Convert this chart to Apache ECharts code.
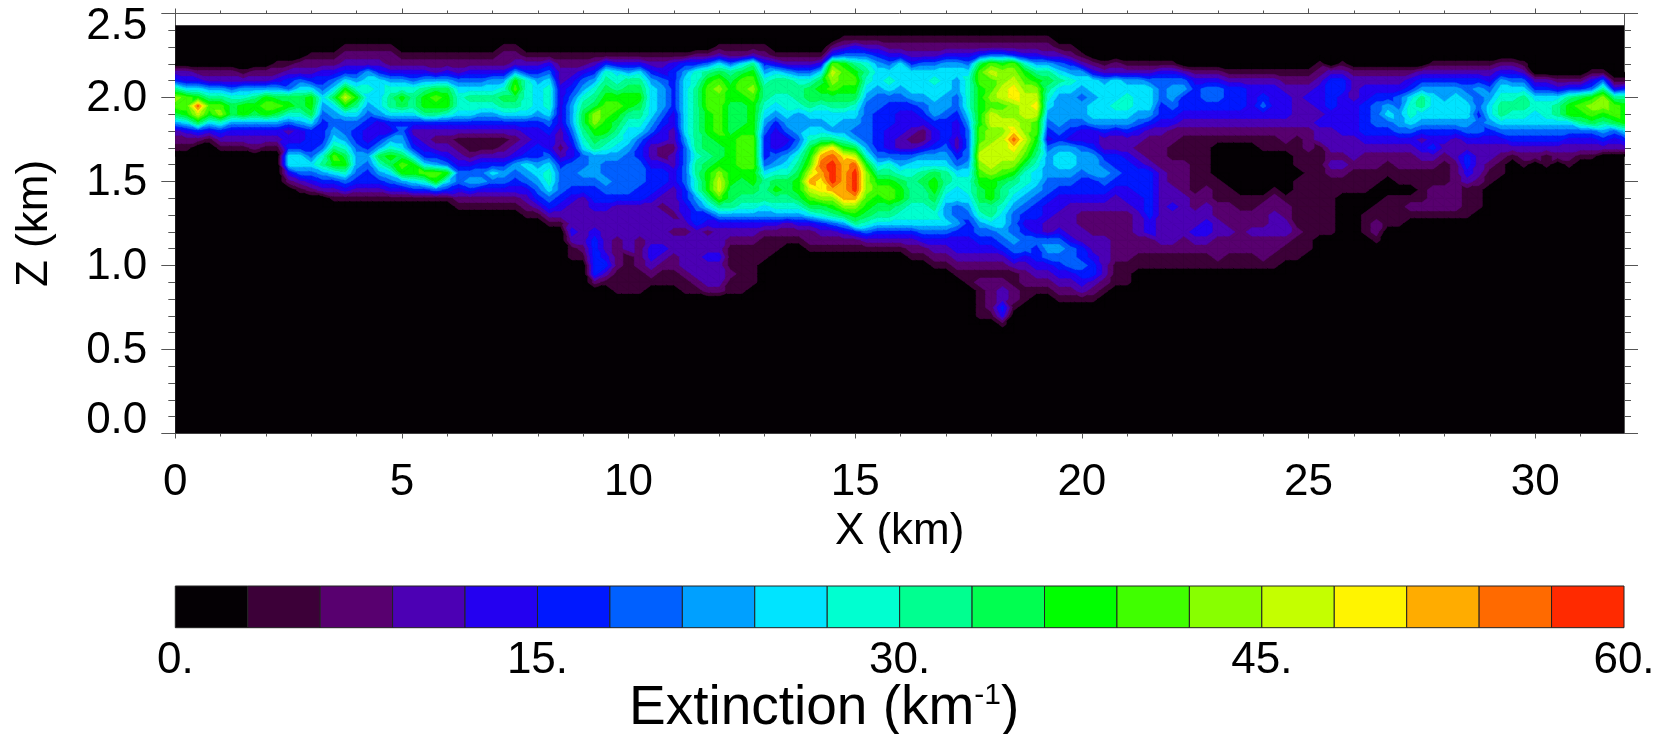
<!DOCTYPE html>
<html><head><meta charset="utf-8">
<style>html,body{margin:0;padding:0;background:#fff}#c{width:1667px;height:734px}</style>
<script src="https://cdn.jsdelivr.net/npm/echarts@6/dist/echarts.min.js"></script>
</head><body><div id="c"></div>
<script>
// Contour levels of extinction (km-1) and their fill colours
const levels = [0,3,6,9,12,15,18,21,24,27,30,33,36,39,42,45,48,51,54,57,60];
const levelColors = ['#040004','#3c0038','#58006f','#4c00b4','#2400f0','#0018ff','#0060ff','#00a0ff','#00e4ff','#00ffd0','#00ff90','#00ff50','#00ff00','#40ff00','#88ff00','#c4ff00','#fff400','#ffac00','#ff6a00','#ff2a00'];
const xKm = [0,0.25,0.5,0.75,1,1.25,1.5,1.75,2,2.25,2.5,2.75,3,3.25,3.5,3.75,4,4.25,4.5,4.75,5,5.25,5.5,5.75,6,6.25,6.5,6.75,7,7.25,7.5,7.75,8,8.25,8.5,8.75,9,9.25,9.5,9.75,10,10.25,10.5,10.75,11,11.25,11.5,11.75,12,12.25,12.5,12.75,13,13.25,13.5,13.75,14,14.25,14.5,14.75,15,15.25,15.5,15.75,16,16.25,16.5,16.75,17,17.25,17.5,17.75,18,18.25,18.5,18.75,19,19.25,19.5,19.75,20,20.25,20.5,20.75,21,21.25,21.5,21.75,22,22.25,22.5,22.75,23,23.25,23.5,23.75,24,24.25,24.5,24.75,25,25.25,25.5,25.75,26,26.25,26.5,26.75,27,27.25,27.5,27.75,28,28.25,28.5,28.75,29,29.25,29.5,29.75,30,30.25,30.5,30.75,31,31.25,31.5,31.75,32];
const zKm = [2.40,2.35,2.30,2.25,2.20,2.15,2.10,2.05,2.00,1.95,1.90,1.85,1.80,1.75,1.70,1.65,1.60,1.55,1.50,1.45,1.40,1.35,1.30,1.25,1.20,1.15,1.10,1.05,1.00,0.95,0.90,0.85,0.80,0.75,0.70,0.65,0.60];
const xDomain = [0,31.96];
const zDomain = [0,2.43];
// One string per x position; one character per z level (top to bottom), giving the contour band 0-9,a-j. Omitted tail = band 0.
const bandColumns = [
"00000 35aed b7321",
"00000 348dd c8421",
"00000 248ci fb520",
"00000 237ad c8410",
"00000 237ad e9531",
"00000 2369b b7431",
"00000 1379c c7431",
"00000 237ac b7432",
"00000 237cd c7431",
"00001 247bd b7431",
"00001 356bc 96345 88420",
"00002 368bb 97445 88631",
"00012 358cc b8555 68642",
"00012 45687 65556 9a753",
"00012 468b8 7678a dc853 1",
"00123 58cfc 86679 bc964 1",
"00123 579ca 86556 77653 1",
"00123 78987 65445 76553 1",
"00123 58888 74457 b9753 1",
"00122 479aa 85479 cb864 1",
"00012 479cb 85678 bdc74 1",
"00012 469aa 85345 8cc85 1",
"00012 47acc a5334 58d95 1",
"00012 37bdc a5323 57dc6 1",
"00012 47bcc 95323 46c85 1",
"00012 36899 85312 34664 21",
"00012 468a9 85311 24675 21",
"00012 468a9 75311 35674 21",
"00012 478a9 75311 35864 21",
"00122 479ba 85312 35764 21",
"00123 7cdba 85323 47654 21",
"00013 59999 85434 58764 321",
"00013 57888 75445 57876 531",
"00014 68999 86544 68998 6531",
"00012 33444 44332 35666 5431",
"00012 34567 77654 46665 43334 311",
"00012 4679a bba98 66765 33333 321",
"00013 579ab eecba 77765 54334 55555 2",
"00015 9abcd dcca9 76676 54333 33453 1",
"00014 89acd cba98 76666 53333 22221 11",
"00014 7abcc a9887 66666 53333 33111 11",
"00014 8abcb a9865 56665 53333 22221 11",
"00013 57888 87643 34555 43333 34432 1",
"00013 46777 65442 24554 32333 34321 1",
"00014 55555 44332 33443 33232 33221 1",
"00015 78888 88876 66665 54432 33332 11",
"00025 99aaa aaaaa 9aa99 76553 33333 21",
"00026 acddd cccbb abccc a8542 33433 32",
"00138 bdedd dddcb bceff da743 33433 32",
"00126 abccb bbbcc ccccb ba743 21112 11",
"00128 bddcb bbcdd ddcbb a9743 21111 11",
"0013a cdedc cccdd ddccb a9743 21111 1",
"00125 79aa9 87655 568aa a8742 111",
"00014 8aa98 75444 679bc a9742 11",
"00013 7aa99 87645 789bb a9732 1",
"00013 69aa9 77767 9abcc b9742 1",
"00013 69bba 8789b cdfhf db842 21",
"00014 8bcb9 878ae hihgg eb953 21",
"0025d fedba 887ag ijjjh eca63 21",
"0136c ddcba 8779c ghhhh heb74 21",
"0146a cdcb9 8767b fijjj heca5 21",
"01369 a9876 66667 9ceee dcb96 31",
"01357 88766 55555 68acd cba85 31",
"01246 89865 55444 69acd dba85 31",
"01248 88765 44433 679bc ca985 31",
"01235 88875 44323 689aa a9985 321",
"01236 88876 54224 78aba a9986 421",
"01236 89887 75445 78bcc ba986 4321",
"01247 88877 65556 78aa9 87786 4321",
"01247 87766 54433 56898 86675 44321",
"01246 89999 87666 67899 87655 44321 1",
"0125b ddccc ccdde fedcb ba976 54321 21111",
"0126d fdded ffeef ffecc caa86 54321 22221",
"0126c eeffd efeff fedba a9887 65321 23354 1",
"0125d efgge efgig feca9 87666 76531 1221",
"01249 cdeff feefe db998 76545 66432 211",
"01247 acefg fddcb a9887 65544 65543 21",
"01237 aba98 76546 77766 54433 67643 21",
"00136 8a877 77657 88765 44334 67654 321",
"00125 79877 76547 88765 43333 46664 321",
"00013 78767 76446 77655 43223 35565 431",
"00002 48878 87445 77755 43222 33455 321",
"00001 37888 87533 56765 43222 33333 21",
"00002 38889 87433 55654 33222 22211 1",
"00001 37899 87533 45554 43222 22211 1",
"00001 37888 76432 34555 44333 22110",
"00001 36888 75322 23555 55544 22110",
"00001 46665 54322 22333 33333 32110",
"00001 46776 54221 12223 34333 32110",
"00000 36755 43211 12222 33333 22110",
"00000 24555 43211 11111 22334 32110",
"00000 24665 43211 11112 23344 32110",
"00000 24665 43210 00011 12233 22210",
"00000 13555 43210 00001 12223 22110",
"00000 13555 43210 00000 11222 22110",
"00000 13444 43210 00000 11223 22110",
"00000 13456 43211 00000 12223 22210",
"00000 13444 43211 00001 22333 22110",
"00000 12344 43221 00000 12233 21100",
"00000 12333 33211 11011 11112 111",
"00000 12343 33222 11111 11111 11",
"00001 23444 34331 11111 11111",
"00000 35555 44333 23211 11111",
"00001 35544 44433 23211",
"00000 23334 44433 32111",
"00000 23445 55543 22111 00111",
"00000 23456 66543 22110 01122 1",
"00000 23457 86543 21100 1111",
"00000 23466 77643 22110 11110",
"00000 24589 98643 22110 121",
"00000 357aa 87534 32111 121",
"00001 35788 87545 32112 221",
"00001 35778 87543 21112 221",
"00001 35788 87533 32222 221",
"00001 35678 87643 55431 111",
"00001 35766 56643 33321 11",
"00001 34678 87543 32110",
"00002 4789a a8643 21100",
"00002 4689a 98653 1",
"00001 368aa 98653 21",
"00000 03589 88653 2",
"00000 03589 98653 11",
"00000 0248a a8653 2",
"00000 025ac c8643 21",
"00000 025bd ca643 1",
"00000 146ce db643 1",
"00000 16aee ca753",
"00000 014ad db643",
"00000 015ac cc853"
];
const xTickLabels = [0,5,10,15,20,25,30];
const colorbarTicks = ['0.','15.','30.','45.','60.'];

const AXIS = '#555';
const FONT = '"Liberation Sans", Arial, sans-serif';

// band character -> representative value in km-1 (middle of the band)
function bandValue(ch){
  const k = parseInt(ch,36);
  return k === 0 ? 0 : (levels[k]+levels[k+1])/2;
}
const grid = bandColumns.map(s => s.replace(/ /g,'').padEnd(zKm.length,'0').split('').map(bandValue));

const cells = [];
for (let i=0;i<xKm.length-1;i++){
  for (let j=0;j<zKm.length-1;j++){
    const a=grid[i][j], b=grid[i+1][j], c=grid[i][j+1], d=grid[i+1][j+1];
    if (a+b+c+d>0) cells.push([xKm[i],xKm[i+1],zKm[j],zKm[j+1],a,b,c,d]);
  }
}

function clip(poly, limit, keepAbove){
  const out=[];
  for (let i=0;i<poly.length;i++){
    const p=poly[i], q=poly[(i+1)%poly.length];
    const pin = keepAbove ? p[2]>=limit : p[2]<=limit;
    const qin = keepAbove ? q[2]>=limit : q[2]<=limit;
    if (pin) out.push(p);
    if (pin!==qin){
      const t=(limit-p[2])/(q[2]-p[2]);
      out.push([p[0]+t*(q[0]-p[0]),p[1]+t*(q[1]-p[1]),limit]);
    }
  }
  return out;
}
function bandPolys(tri, api, children){
  const vs=tri.map(p=>p[2]);
  const mn=Math.min(...vs), mx=Math.max(...vs);
  for (let k=0;k<levelColors.length;k++){
    const lo=levels[k], hi=levels[k+1];
    if (mx<lo||mn>hi) continue;
    let poly=clip(tri,lo,true);
    if (poly.length>=3) poly=clip(poly,hi,false);
    if (poly.length<3) continue;
    children.push({type:'polygon',silent:true,
      shape:{points:poly.map(p=>api.coord([p[0],p[1]]))},
      style:{fill:levelColors[k],stroke:levelColors[k],lineWidth:0.7}});
  }
}
function renderContour(params, api){
  const x0=api.value(0),x1=api.value(1),z0=api.value(2),z1=api.value(3);
  const A=[x0,z0,api.value(4)],B=[x1,z0,api.value(5)],C=[x0,z1,api.value(6)],D=[x1,z1,api.value(7)];
  const children=[];
  // split along the diagonal whose ends are closest in value
  if (Math.abs(A[2]-D[2])<=Math.abs(B[2]-C[2])){
    bandPolys([A,B,D],api,children); bandPolys([A,D,C],api,children);
  } else {
    bandPolys([A,B,C],api,children); bandPolys([B,D,C],api,children);
  }
  return {type:'group',children};
}
function renderDomain(params, api){
  const p0=api.coord([api.value(0),api.value(2)]), p1=api.coord([api.value(1),api.value(3)]);
  return {type:'rect',silent:true,shape:{x:p0[0],y:p1[1],width:p1[0]-p0[0],height:p0[1]-p1[1]},style:{fill:levelColors[0]}};
}
function renderBar(params, api){
  const p0=api.coord([api.value(0),0]), p1=api.coord([api.value(1),1]);
  return {type:'rect',silent:true,shape:{x:p0[0],y:p1[1],width:p1[0]-p0[0],height:p0[1]-p1[1]},
    style:{fill:levelColors[params.dataIndex],stroke:'#222',lineWidth:1}};
}
const colorbarData = levelColors.map((c,i)=>[levels[i],levels[i+1]]);

const tick = (len)=>({show:true,length:len,lineStyle:{color:AXIS,width:1}});
const line = {show:true,onZero:false,lineStyle:{color:AXIS,width:1}};
const label = {color:'#000',fontSize:44,fontFamily:FONT};

const option = {
  animation:false,
  backgroundColor:'#fff',
  grid:[
    {left:175.3,right:43,top:13.5,bottom:300.5,outerBoundsMode:'none'},
    {left:175.3,right:43,top:586,height:41.7,outerBoundsMode:'none'}
  ],
  xAxis:[
    {type:'value',gridIndex:0,min:xDomain[0],max:xDomain[1],interval:5,position:'bottom',
     axisLine:line,axisTick:{...tick(5),customValues:xTickLabels},minorTick:{...tick(3),splitNumber:5},splitLine:{show:false},
     axisLabel:{...label,margin:27,customValues:xTickLabels,formatter:v=>String(v)},
     name:'X (km)',nameLocation:'middle',nameGap:73,nameTextStyle:{...label}},
    {type:'value',gridIndex:0,min:xDomain[0],max:xDomain[1],interval:5,position:'top',
     axisLine:line,axisTick:{...tick(5),customValues:xTickLabels},minorTick:{...tick(3),splitNumber:5},splitLine:{show:false},axisLabel:{show:false}},
    {type:'value',gridIndex:1,min:0,max:60,interval:15,position:'bottom',
     axisLine:{show:false},axisTick:{show:false},splitLine:{show:false},
     axisLabel:{...label,margin:11,formatter:v=>colorbarTicks[v/15]}}
  ],
  yAxis:[
    {type:'value',gridIndex:0,min:0,max:2.5,interval:0.5,position:'left',
     axisLine:line,axisTick:tick(14),minorTick:{...tick(7),splitNumber:5},splitLine:{show:false},
     axisLabel:{...label,margin:28,
       formatter:v=>v===2.5?'{top|2.5}':(v===0?'{bot|0.0}':'{mid|'+v.toFixed(1)+'}'),
       rich:{top:{...label,padding:[27,0,0,0]},mid:{...label,padding:[3,0,0,0]},bot:{...label,padding:[0,0,26,0]}}},
     name:'Z (km)',nameLocation:'middle',nameGap:118,nameRotate:90,nameTextStyle:{...label}},
    {type:'value',gridIndex:0,min:0,max:2.5,interval:0.5,position:'right',
     axisLine:line,axisTick:tick(14),minorTick:{...tick(7),splitNumber:5},splitLine:{show:false},axisLabel:{show:false}},
    {type:'value',gridIndex:1,min:0,max:1,show:false}
  ],
  graphic:[{type:'text',left:629,top:681,silent:true,style:{
    text:'{a|Extinction (km}{b|-1}{a|)}',
    rich:{a:{fontSize:55,fontFamily:FONT,fill:'#000',color:'#000'},
          b:{fontSize:30,fontFamily:FONT,fill:'#000',color:'#000',verticalAlign:'top'}}
  }}],
  series:[
    {type:'custom',name:'domain',xAxisIndex:0,yAxisIndex:0,clip:true,silent:true,z:1,progressive:0,
     data:[[xDomain[0],xDomain[1],zDomain[0],zDomain[1]]],renderItem:renderDomain},
    {type:'custom',name:'Extinction',xAxisIndex:0,yAxisIndex:0,clip:true,silent:true,z:2,progressive:0,
     data:cells,renderItem:renderContour},
    {type:'custom',name:'colorbar',xAxisIndex:2,yAxisIndex:2,silent:true,z:2,progressive:0,
     data:colorbarData,renderItem:renderBar}
  ]
};
echarts.init(document.getElementById('c'),null,{renderer:'canvas'}).setOption(option);
</script></body></html>
